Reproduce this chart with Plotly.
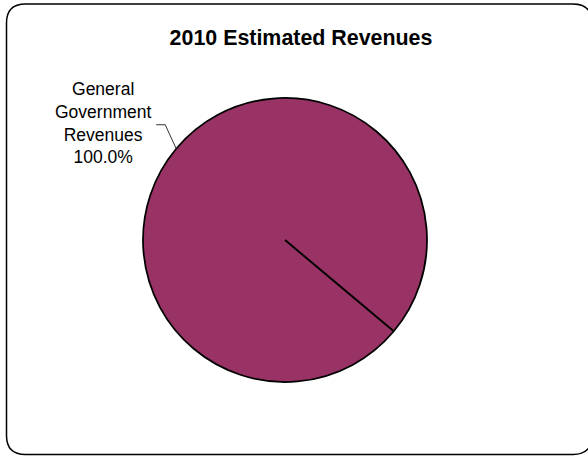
import math
import plotly.graph_objects as go

# ---- data ----
labels = ["General Government Revenues"]
values = [100.0]
label_lines = ["General", "Government", "Revenues"]
title_text = "2010 Estimated Revenues"

W, H = 588, 456
FONT = "Liberation Sans, Arial, sans-serif"
SLICE_COLOR = "#993366"

# pie geometry in pixels
CX, CY, R = 285, 240, 142
ROTATION = 130  # degrees clockwise from 12 o'clock


def px(x):
    return x / W


def py(y):
    return 1 - y / H


fig = go.Figure()
fig.add_trace(go.Pie(
    labels=labels,
    values=values,
    sort=False,
    direction="clockwise",
    rotation=ROTATION,
    textinfo="none",
    hoverinfo="label+percent",
    marker=dict(colors=[SLICE_COLOR], line=dict(color="#000000", width=1.75)),
    domain=dict(x=[px(CX - R), px(CX + R)], y=[py(CY + R), py(CY - R)]),
    showlegend=False,
))

shapes = []
# radial boundary line at the slice start angle
a = math.radians(ROTATION)
ex, ey = CX + R * math.sin(a), CY - R * math.cos(a)
shapes.append(dict(type="line", xref="paper", yref="paper",
                   x0=px(CX), y0=py(CY), x1=px(ex), y1=py(ey),
                   line=dict(color="#000000", width=2)))

# leader line from slice middle to label
total = sum(values)
mid = math.radians(ROTATION + 360 * values[0] / total / 2)
tx, ty = CX + R * math.sin(mid), CY - R * math.cos(mid)
elx, ely = tx - 11, ty - 24
shapes.append(dict(type="path", xref="paper", yref="paper",
                   path=f"M {px(tx)} {py(ty)} L {px(elx)} {py(ely)} L {px(elx - 9)} {py(ely)}",
                   line=dict(color="#333333", width=1)))

# rounded border
x0, y0, x1, y1, rr = 6.5, 4, 592, 454.5, 19
path = (f"M {px(x0 + rr)} {py(y0)} L {px(x1 - rr)} {py(y0)} "
        f"Q {px(x1)} {py(y0)} {px(x1)} {py(y0 + rr)} "
        f"L {px(x1)} {py(y1 - rr)} Q {px(x1)} {py(y1)} {px(x1 - rr)} {py(y1)} "
        f"L {px(x0 + rr)} {py(y1)} Q {px(x0)} {py(y1)} {px(x0)} {py(y1 - rr)} "
        f"L {px(x0)} {py(y0 + rr)} Q {px(x0)} {py(y0)} {px(x0 + rr)} {py(y0)} Z")
shapes.append(dict(type="path", xref="paper", yref="paper", path=path,
                   line=dict(color="#000000", width=1.5)))

pct = 100 * values[0] / total
label_text = "<br>".join(label_lines + [f"{pct:.1f}%"])

fig.update_layout(
    width=W, height=H,
    margin=dict(l=0, r=0, t=0, b=0),
    paper_bgcolor="#ffffff",
    plot_bgcolor="#ffffff",
    font=dict(family=FONT, color="#000000"),
    title=dict(text=f"<b>{title_text}</b>", x=px(301), y=py(38),
               xanchor="center", yanchor="middle", xref="paper", yref="paper",
               font=dict(family=FONT, size=21.4, color="#000000")),
    shapes=shapes,
    annotations=[dict(text=label_text, x=px(103), y=py(123.5),
                      xref="paper", yref="paper", showarrow=False,
                      xanchor="center", yanchor="middle", align="center",
                      font=dict(family=FONT, size=17.5, color="#000000"))],
)

fig.write_html("out.html",
               config={"displayModeBar": False},
               post_script="document.body.style.margin='0';document.body.style.overflow='hidden';")
